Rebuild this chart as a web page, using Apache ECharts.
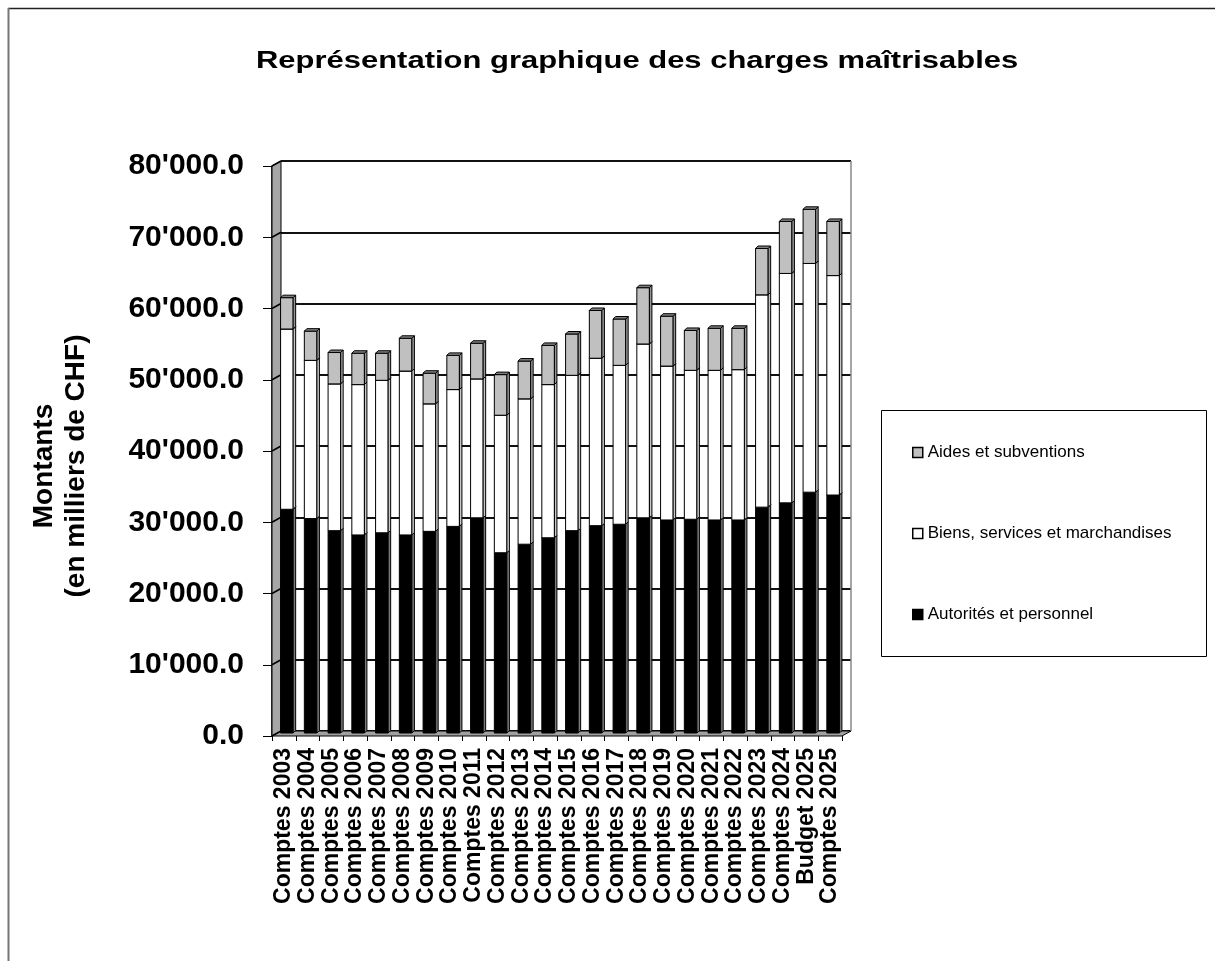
<!DOCTYPE html>
<html>
<head>
<meta charset="utf-8">
<title>Charges maîtrisables</title>
<script src="https://cdn.jsdelivr.net/npm/echarts@6/dist/echarts.min.js"></script>
<style>html,body{margin:0;background:#fff}#chart{width:1215px;height:961px}</style>
</head>
<body>
<div id="chart"></div>
<script>
// Données (milliers de CHF)
const categories = [
  'Comptes 2003', 'Comptes 2004', 'Comptes 2005', 'Comptes 2006', 'Comptes 2007', 'Comptes 2008',
  'Comptes 2009', 'Comptes 2010', 'Comptes 2011', 'Comptes 2012', 'Comptes 2013', 'Comptes 2014',
  'Comptes 2015', 'Comptes 2016', 'Comptes 2017', 'Comptes 2018', 'Comptes 2019', 'Comptes 2020',
  'Comptes 2021', 'Comptes 2022', 'Comptes 2023', 'Comptes 2024', 'Budget 2025', 'Comptes 2025'
];
const autorites = [31400, 30100, 28400, 27800, 28100, 27800, 28300, 29000, 30200, 25300, 26500, 27400,
  28400, 29100, 29300, 30200, 29900, 30000, 29900, 29900, 31700, 32300, 33800, 33400];
const biens = [25300, 22200, 20600, 21100, 21400, 23000, 17900, 19200, 19500, 19300, 20400, 21500,
  21800, 23500, 22300, 24400, 21600, 20900, 21000, 21100, 29800, 32200, 32100, 30800];
const aides = [4400, 4100, 4400, 4400, 3800, 4600, 4300, 4800, 5000, 5700, 5300, 5500,
  5800, 6700, 6500, 7900, 7000, 5600, 5900, 5800, 6500, 7300, 7600, 7600];
const seriesNames = ['Autorités et personnel', 'Biens, services et marchandises', 'Aides et subventions'];

const FONT = 'Arial, "Liberation Sans", sans-serif';

// plan avant (axes) et plan arrière (quadrillage) : effet 3D d'Excel
const FRONT = { left: 272, top: 166, width: 570, height: 570 };
const BACK = { left: 281, top: 161, width: 570, height: 570 };

// empilement : [index, bas, haut]
function stackData(values, bases) {
  return values.map((v, i) => [i, bases[i], bases[i] + v]);
}
const base0 = categories.map(() => 0);
const base1 = autorites.slice();
const base2 = autorites.map((v, i) => v + biens[i]);

// colonne 3D : face avant + côté + dessus
function makeRender(fill, sideFill, topFill) {
  return function (params, api) {
    const i = api.value(0);
    const pLo = api.coord([i, api.value(1)]);
    const pHi = api.coord([i, api.value(2)]);
    const band = api.size([1, 0])[0];
    const w = band * 0.53; // largeur face avant
    const d = 2.5; // profondeur visible
    const x0 = pLo[0] + 3 - w / 2;
    const yLo = pLo[1] - 3;
    const yHi = pHi[1] - 3;
    const line = { stroke: '#000', lineWidth: 1 };
    return {
      type: 'group',
      children: [
        { type: 'rect', shape: { x: x0, y: yHi, width: w, height: yLo - yHi }, style: Object.assign({ fill: fill }, line) },
        { type: 'polygon', shape: { points: [[x0 + w, yHi], [x0 + w + d, yHi - d], [x0 + w + d, yLo - d], [x0 + w, yLo]] }, style: Object.assign({ fill: sideFill }, line) },
        { type: 'polygon', shape: { points: [[x0, yHi], [x0 + d, yHi - d], [x0 + w + d, yHi - d], [x0 + w, yHi]] }, style: Object.assign({ fill: topFill }, line) }
      ]
    };
  };
}

function barSeries(name, data, fill, sideFill, topFill) {
  return {
    name: name,
    type: 'custom',
    xAxisIndex: 0,
    yAxisIndex: 0,
    renderItem: makeRender(fill, sideFill, topFill),
    encode: { x: 0, y: [1, 2] },
    itemStyle: { color: fill, borderColor: '#000', borderWidth: 1 },
    data: data,
    z: 3
  };
}

const chart = echarts.init(document.getElementById('chart'), null, { renderer: 'canvas' });

const option = {
  backgroundColor: '#fff',
  animation: false,
  grid: [
    Object.assign({ outerBoundsMode: 'none' }, FRONT),
    Object.assign({ outerBoundsMode: 'none' }, BACK)
  ],
  xAxis: [
    {
      type: 'category', gridIndex: 0, data: categories,
      axisLine: { show: false },
      axisTick: { show: true, length: 5, interval: 0, lineStyle: { color: '#000', width: 1 } },
      axisLabel: { interval: 0, rotate: 90, margin: 12, color: '#000', fontFamily: FONT, fontWeight: 'bold', fontSize: 23 },
      splitLine: { show: false }
    },
    {
      type: 'category', gridIndex: 1, data: categories, show: false
    }
  ],
  yAxis: [
    {
      type: 'value', gridIndex: 0, min: 0, max: 80000, interval: 10000,
      axisLine: { show: true, lineStyle: { color: '#000', width: 1.5 } },
      axisTick: { show: true, length: 9, lineStyle: { color: '#000', width: 1 } },
      axisLabel: {
        margin: 28, color: '#000', fontFamily: FONT, fontWeight: 'bold', fontSize: 30,
        formatter: function (v) { return v === 0 ? '0.0' : (v / 1000) + "'000.0"; }
      },
      splitLine: { show: false }
    },
    {
      type: 'value', gridIndex: 1, min: 0, max: 80000, interval: 10000,
      axisLine: { show: false }, axisTick: { show: false }, axisLabel: { show: false },
      splitLine: { show: true, lineStyle: { color: '#111', width: 2 } }
    }
  ],
  legend: {
    data: [
      { name: 'Aides et subventions', itemStyle: { color: '#c0c0c0', borderColor: '#000', borderWidth: 1.5 } },
      { name: 'Biens, services et marchandises', itemStyle: { color: '#fff', borderColor: '#000', borderWidth: 1.5 } },
      { name: 'Autorités et personnel', itemStyle: { color: '#000', borderColor: '#000', borderWidth: 1.5 } }
    ],
    orient: 'vertical', left: 912, top: 444, itemGap: 64, itemWidth: 10, itemHeight: 10, icon: 'rect',
    padding: 0,
    textStyle: { color: '#000', fontFamily: FONT, fontSize: 17 }
  },
  series: [
    barSeries(seriesNames[0], stackData(autorites, base0), '#000', '#7a7a7a', '#404040'),
    barSeries(seriesNames[1], stackData(biens, base1), '#fff', '#c8c8c8', '#e6e6e6'),
    barSeries(seriesNames[2], stackData(aides, base2), '#c0c0c0', '#969696', '#808080')
  ]
};
chart.setOption(option);

// éléments décoratifs : cadre, murs, titre, titre d'axe, cadre de légende
const fBottom = FRONT.top + FRONT.height;
const bBottom = BACK.top + BACK.height;
const graphics = [
  { type: 'line', shape: { x1: 8, y1: 8.5, x2: 1215, y2: 8.5 }, style: { stroke: '#222', lineWidth: 1.5 }, silent: true },
  { type: 'line', shape: { x1: 8.5, y1: 8, x2: 8.5, y2: 961 }, style: { stroke: '#777', lineWidth: 2 }, silent: true },
  // mur gauche
  { type: 'polygon', shape: { points: [[FRONT.left, FRONT.top], [BACK.left, BACK.top], [BACK.left, bBottom], [FRONT.left, fBottom]] },
    style: { fill: '#a6a6a6', stroke: '#000', lineWidth: 1 }, z: 1, silent: true },
  // sol
  { type: 'polygon', shape: { points: [[FRONT.left, fBottom], [BACK.left, bBottom], [BACK.left + BACK.width, bBottom], [FRONT.left + FRONT.width, fBottom]] },
    style: { fill: '#a0a0a0', stroke: '#000', lineWidth: 1 }, z: 1, silent: true },
  // bord droit du mur arrière
  { type: 'line', shape: { x1: BACK.left + BACK.width, y1: BACK.top, x2: BACK.left + BACK.width, y2: bBottom }, style: { stroke: '#888', lineWidth: 1.5 }, z: 1, silent: true },
  // titre
  { type: 'text', x: 256, y: 49, scaleX: 1.29, style: { text: 'Représentation graphique des charges maîtrisables', font: 'bold 24px ' + FONT, fill: '#000', textAlign: 'left', textVerticalAlign: 'top' }, silent: true },
  // titre de l'axe Y
  { type: 'text', x: 60, y: 466, rotation: Math.PI / 2, style: { text: 'Montants\n(en milliers de CHF)', font: 'bold 28px ' + FONT, fill: '#000', textAlign: 'center', textVerticalAlign: 'middle', lineHeight: 32 }, silent: true },
  // cadre de la légende
  { type: 'rect', shape: { x: 881.5, y: 410.5, width: 325, height: 246 }, style: { fill: 'none', stroke: '#000', lineWidth: 1 }, silent: true }
];
// diagonales du quadrillage sur le mur gauche
for (let v = 0; v <= 80000; v += 10000) {
  const yF = chart.convertToPixel({ yAxisIndex: 0 }, v);
  const yB = chart.convertToPixel({ yAxisIndex: 1 }, v);
  graphics.push({ type: 'line', shape: { x1: FRONT.left, y1: yF, x2: BACK.left, y2: yB }, style: { stroke: '#000', lineWidth: 1.5 }, z: 2, silent: true });
}
chart.setOption({ graphic: graphics });
</script>
</body>
</html>
